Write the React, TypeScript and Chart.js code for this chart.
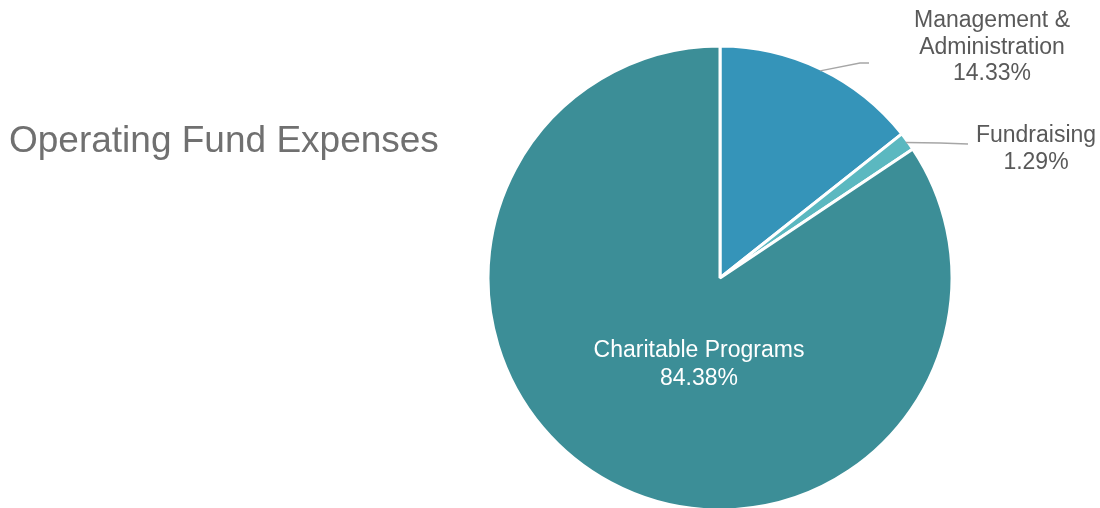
import React, { useEffect, useRef } from "react";
import { Chart, registerables } from "chart.js";

Chart.register(...registerables);

const TITLE = "Operating Fund Expenses";
const CATEGORIES = ["Management & Administration", "Fundraising", "Charitable Programs"];
const LABEL_LINES = [["Management &", "Administration"], ["Fundraising"], ["Charitable Programs"]];
const VALUES = [14.33, 1.29, 84.38];
const COLORS = ["#3594B9", "#5BB8C0", "#3C8E97"];

const LABEL_LAYOUT = [
  { x: 992, y: 21, gap: 26.5, knee: [860, 63], end: [869, 63], inside: false },
  { x: 1036, y: 136, gap: 26.5, knee: [940, 143], end: [968, 144], inside: false },
  { x: 699, y: 351, gap: 28, knee: null, end: null, inside: true },
];

const FONT = "'Liberation Sans', Arial, sans-serif";

const labelPlugin = {
  id: "customLabels",
  afterDraw(chart: any) {
    const ctx = chart.ctx;
    ctx.save();
    ctx.font = `37px ${FONT}`;
    ctx.fillStyle = "#707070";
    ctx.textAlign = "left";
    ctx.textBaseline = "middle";
    ctx.fillText(TITLE, 9, 142);

    const meta = chart.getDatasetMeta(0);
    meta.data.forEach((arc: any, i: number) => {
      const lay = LABEL_LAYOUT[i];
      const { x, y, startAngle, endAngle, outerRadius } = arc.getProps(
        ["x", "y", "startAngle", "endAngle", "outerRadius"],
        true
      );
      const mid = (startAngle + endAngle) / 2;
      const lines = [...LABEL_LINES[i], VALUES[i].toFixed(2) + "%"];
      if (!lay.inside && lay.knee && lay.end) {
        const sx = x + Math.cos(mid) * (outerRadius - 2);
        const sy = y + Math.sin(mid) * (outerRadius - 2);
        ctx.strokeStyle = "#A6A6A6";
        ctx.lineWidth = 1.3;
        ctx.beginPath();
        ctx.moveTo(sx, sy);
        ctx.lineTo(lay.knee[0], lay.knee[1]);
        ctx.lineTo(lay.end[0], lay.end[1]);
        ctx.stroke();
      }
      ctx.font = `23px ${FONT}`;
      ctx.fillStyle = lay.inside ? "#FFFFFF" : "#595959";
      ctx.textAlign = "center";
      ctx.textBaseline = "middle";
      lines.forEach((t, k) => ctx.fillText(t, lay.x, lay.y + k * lay.gap));
    });
    ctx.restore();
  },
};

export default function App() {
  const ref = useRef<HTMLCanvasElement | null>(null);
  useEffect(() => {
    if (!ref.current) return;
    const chart = new Chart(ref.current, {
      type: "pie",
      data: {
        labels: CATEGORIES,
        datasets: [
          {
            data: VALUES,
            backgroundColor: COLORS,
            borderColor: "#FFFFFF",
            borderWidth: 3,
            radius: 232,
          } as any,
        ],
      },
      options: {
        animation: false,
        responsive: true,
        maintainAspectRatio: false,
        layout: { padding: { left: 440, right: 100, top: 48, bottom: 0 } },
        plugins: { legend: { display: false }, tooltip: { enabled: false }, title: { display: false } },
      },
      plugins: [labelPlugin],
    });
    return () => chart.destroy();
  }, []);
  return (
    <div style={{ position: "fixed", left: 0, top: 0, width: 1100, height: 508, background: "#fff" }}>
      <canvas ref={ref} />
    </div>
  );
}
